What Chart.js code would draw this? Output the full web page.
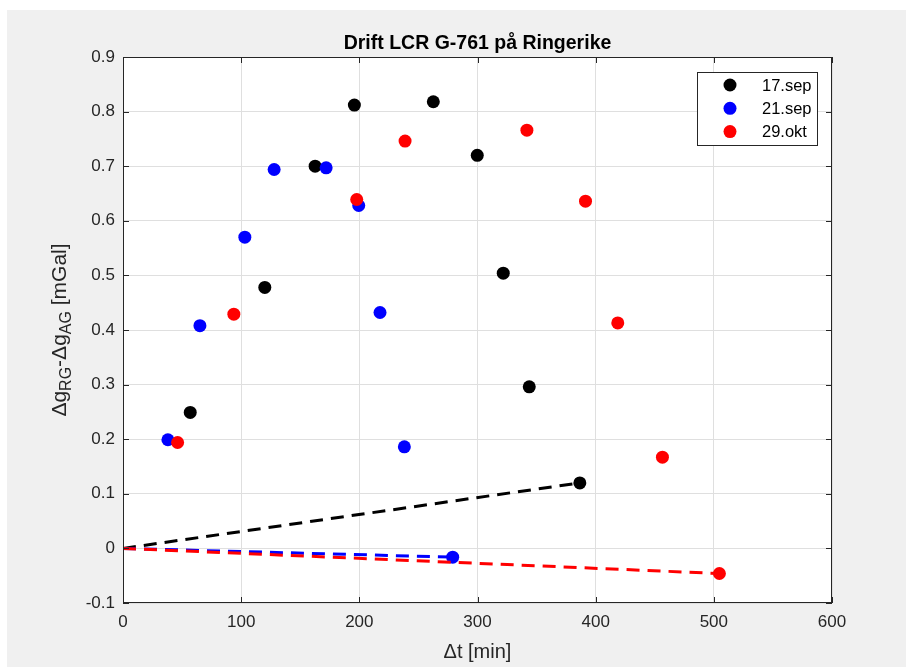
<!DOCTYPE html>
<html><head><meta charset="utf-8">
<script src="https://cdn.jsdelivr.net/npm/chart.js@4.4.0/dist/chart.umd.min.js"></script>
<style>
html,body{margin:0;padding:0;background:#fff;overflow:hidden}
#wrap{position:absolute;left:0;top:0;width:906px;height:667px}
</style></head><body>
<div id="wrap"><canvas id="c" width="906" height="667"></canvas></div>
<script>
const chartTitle = 'Drift LCR G-761 på Ringerike';
const seriesNames = ['17.sep', '21.sep', '29.okt'];
const seriesColors = ['#000000', '#0000ff', '#ff0000'];

const dt17sep = [56.9, 120.0, 162.6, 195.8, 262.6, 299.8, 321.8, 343.8, 386.6];
const dg17sep = [0.249, 0.478, 0.700, 0.812, 0.818, 0.720, 0.504, 0.296, 0.120];
const dt21sep = [38.0, 65.1, 103.1, 127.9, 171.9, 199.5, 217.5, 238.1, 279.0];
const dg21sep = [0.199, 0.408, 0.570, 0.694, 0.697, 0.628, 0.432, 0.186, -0.016];
const dt29okt = [46.2, 93.8, 197.8, 238.7, 341.8, 391.4, 418.7, 456.5, 504.7];
const dg29okt = [0.194, 0.429, 0.639, 0.746, 0.766, 0.636, 0.413, 0.167, -0.046];

const xTicks = [0, 100, 200, 300, 400, 500, 600];
const xTickLabels = ['0', '100', '200', '300', '400', '500', '600'];
const yTicks = [-0.1, 0, 0.1, 0.2, 0.3, 0.4, 0.5, 0.6, 0.7, 0.8, 0.9];
const yTickLabels = ['-0.1', '0', '0.1', '0.2', '0.3', '0.4', '0.5', '0.6', '0.7', '0.8', '0.9'];

const FONT = '"Liberation Sans", Arial, Helvetica, sans-serif';
const AXC = '#262626';

const xs = [dt17sep, dt21sep, dt29okt];
const ys = [dg17sep, dg21sep, dg29okt];

function pts(x, y) { return x.map((v, i) => ({x: v, y: y[i]})); }
function driftLine(x, y) {
  const n = x.length - 1;
  return [{x: 0, y: 0}, {x: x[n], y: y[n]}];
}

const datasets = [];
for (let s = 0; s < 3; s++) {
  datasets.push({
    label: seriesNames[s] + ' drift',
    data: driftLine(xs[s], ys[s]),
    showLine: true, borderColor: seriesColors[s], backgroundColor: seriesColors[s],
    borderWidth: 3, borderDash: [13, 8], pointRadius: 0, pointHoverRadius: 0,
    tension: 0, fill: false, order: 3 - s
  });
}
for (let s = 0; s < 3; s++) {
  datasets.push({
    label: seriesNames[s],
    data: pts(xs[s], ys[s]),
    showLine: false, backgroundColor: seriesColors[s], borderColor: seriesColors[s],
    borderWidth: 0, pointRadius: 6.5, pointHoverRadius: 6.5, order: 10 - s
  });
}

const decor = {
  id: 'decor',
  beforeDraw(chart) {
    const ctx = chart.ctx, a = chart.chartArea;
    ctx.save();
    ctx.fillStyle = '#ffffff';
    ctx.fillRect(0, 0, chart.width, chart.height);
    ctx.fillStyle = '#f0f0f0';
    ctx.fillRect(7, 10, chart.width - 7, chart.height - 10);
    ctx.fillStyle = '#ffffff';
    ctx.fillRect(a.left, a.top, a.right - a.left, a.bottom - a.top);
    ctx.restore();
  },
  afterDraw(chart) {
    const ctx = chart.ctx, a = chart.chartArea;
    const xs_ = chart.scales.x, ys_ = chart.scales.y;
    ctx.save();
    ctx.strokeStyle = AXC; ctx.lineWidth = 1;
    ctx.strokeRect(Math.round(a.left) + 0.5, Math.round(a.top) + 0.5,
                   Math.round(a.right - a.left) - 1, Math.round(a.bottom - a.top) - 1);
    const tl = 6;
    ctx.beginPath();
    xTicks.forEach(v => {
      const px = Math.round(xs_.getPixelForValue(v)) + 0.5;
      ctx.moveTo(px, a.bottom); ctx.lineTo(px, a.bottom - tl);
      ctx.moveTo(px, a.top); ctx.lineTo(px, a.top + tl);
    });
    yTicks.forEach(v => {
      const py = Math.round(ys_.getPixelForValue(v)) + 0.5;
      ctx.moveTo(a.left, py); ctx.lineTo(a.left + tl, py);
      ctx.moveTo(a.right, py); ctx.lineTo(a.right - tl, py);
    });
    ctx.stroke();

    // title
    ctx.fillStyle = '#000';
    ctx.font = 'bold 19.5px ' + FONT;
    ctx.textAlign = 'center'; ctx.textBaseline = 'alphabetic';
    ctx.fillText(chartTitle, (a.left + a.right) / 2, 49);

    // x label
    ctx.fillStyle = AXC;
    ctx.font = '20px ' + FONT;
    ctx.fillText('\u0394t [min]', (a.left + a.right) / 2, 658);

    // y label with subscripts
    const parts = [
      {t: '\u0394g', sub: false}, {t: 'RG', sub: true},
      {t: '-\u0394g', sub: false}, {t: 'AG', sub: true},
      {t: ' [mGal]', sub: false}
    ];
    const big = '21px ' + FONT, small = '16px ' + FONT;
    let total = 0;
    parts.forEach(p => { ctx.font = p.sub ? small : big; p.w = ctx.measureText(p.t).width; total += p.w; });
    ctx.translate(66, (a.top + a.bottom) / 2);
    ctx.rotate(-Math.PI / 2);
    ctx.textAlign = 'left';
    let cx = -total / 2;
    parts.forEach(p => {
      ctx.font = p.sub ? small : big;
      ctx.fillText(p.t, cx, p.sub ? 5 : 0);
      cx += p.w;
    });
    ctx.restore();

    // legend
    ctx.save();
    const lx = 697.5, ly = 72.5, lw = 120, lh = 73;
    ctx.fillStyle = '#fff';
    ctx.fillRect(lx, ly, lw, lh);
    ctx.strokeStyle = AXC; ctx.lineWidth = 1;
    ctx.strokeRect(lx, ly, lw, lh);
    ctx.font = '16.5px ' + FONT;
    ctx.textAlign = 'left'; ctx.textBaseline = 'middle';
    for (let s = 0; s < 3; s++) {
      const yy = 85 + s * 23.3;
      ctx.fillStyle = seriesColors[s];
      ctx.beginPath(); ctx.arc(730, yy, 6.5, 0, Math.PI * 2); ctx.fill();
      ctx.fillStyle = '#000';
      ctx.fillText(seriesNames[s], 762, yy + 1);
    }
    ctx.restore();
  }
};

new Chart(document.getElementById('c'), {
  type: 'scatter',
  data: {datasets},
  options: {
    responsive: false, devicePixelRatio: 1, animation: false,
    layout: {padding: {left: 0, right: 74, top: 57, bottom: 0}},
    plugins: {legend: {display: false}, title: {display: false}, tooltip: {enabled: false}},
    scales: {
      x: {
        type: 'linear', position: 'bottom', min: 0, max: 600,
        afterBuildTicks: s => { s.ticks = xTicks.map(v => ({value: v})); },
        afterFit: s => { s.height = 64; },
        ticks: {callback: (v, i) => xTickLabels[i], color: AXC, font: {family: FONT, size: 17}, padding: 9, maxRotation: 0, autoSkip: false},
        grid: {color: '#dfdfdf', lineWidth: 1, drawTicks: false},
        border: {display: false}
      },
      y: {
        type: 'linear', position: 'left', min: -0.1, max: 0.9,
        afterBuildTicks: s => { s.ticks = yTicks.map(v => ({value: v})); },
        afterFit: s => { s.width = 123; },
        ticks: {callback: (v, i) => yTickLabels[i], color: AXC, font: {family: FONT, size: 17}, padding: 8, autoSkip: false},
        grid: {color: '#dfdfdf', lineWidth: 1, drawTicks: false},
        border: {display: false}
      }
    }
  },
  plugins: [decor]
});
</script>
</body></html>
